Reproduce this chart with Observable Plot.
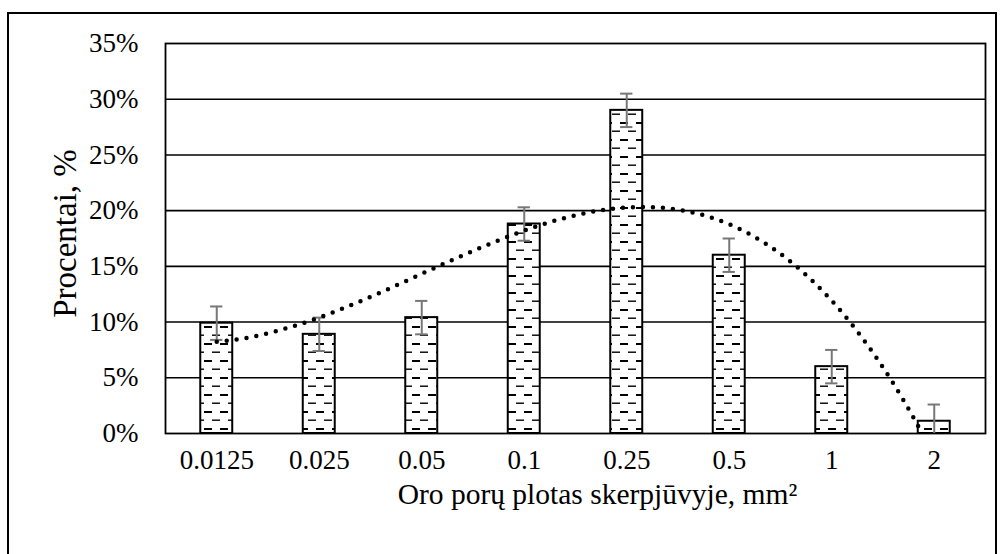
<!DOCTYPE html>
<html>
<head>
<meta charset="utf-8">
<script src="https://cdn.jsdelivr.net/npm/d3@7"></script>
<script src="https://cdn.jsdelivr.net/npm/@observablehq/plot@0.6"></script>
<style>
  html, body { margin: 0; padding: 0; background: #fff; }
  #wrap { position: relative; width: 1001px; height: 554px; overflow: hidden; }
  #border { position: absolute; left: 7px; top: 12px; width: 990px; height: 600px; border: 2px solid #000; box-sizing: border-box; }
  #chart { position: absolute; left: 0; top: 0; }
</style>
</head>
<body>
<div id="wrap">
  <div id="border"></div>
  <div id="chart"></div>
</div>
<script>
// Pore-area classes (mm²) and their share of all pores (%)
const categories = ["0.0125", "0.025", "0.05", "0.1", "0.25", "0.5", "1", "2"];
const shares = [9.9, 8.9, 10.4, 18.8, 29.0, 16.0, 6.0, 1.1];
const errors = [1.5, 1.5, 1.5, 1.5, 1.5, 1.5, 1.5, 1.5];
const yTicks = [0, 5, 10, 15, 20, 25, 30, 35];
const xTitle = "Oro porų plotas skerpjūvyje, mm²";
const yTitle = "Procentai, %";

const rows = categories.map((c, i) => ({
  pos: i + 1,
  category: c,
  value: shares[i],
  lo: Math.max(0, shares[i] - errors[i]),
  hi: shares[i] + errors[i]
}));

// Least-squares cubic trend over category positions 1..n
function polyFit(xs, ys, order) {
  const m = order + 1;
  const A = Array.from({length: m}, () => new Array(m + 1).fill(0));
  xs.forEach((x, k) => {
    for (let r = 0; r < m; r++) {
      for (let c = 0; c < m; c++) A[r][c] += Math.pow(x, r + c);
      A[r][m] += ys[k] * Math.pow(x, r);
    }
  });
  for (let p = 0; p < m; p++) {
    let best = p;
    for (let r = p + 1; r < m; r++) if (Math.abs(A[r][p]) > Math.abs(A[best][p])) best = r;
    [A[p], A[best]] = [A[best], A[p]];
    for (let r = 0; r < m; r++) {
      if (r === p) continue;
      const f = A[r][p] / A[p][p];
      for (let c = p; c <= m; c++) A[r][c] -= f * A[p][c];
    }
  }
  return A.map((row, r) => row[m] / row[r]);
}
const coef = polyFit(rows.map(d => d.pos), shares, 3);
const trendAt = t => coef.reduce((s, c, k) => s + c * Math.pow(t, k), 0);

// Sample the trend, cutting it where it drops below the axis minimum
const trend = [];
for (let t = 1; t <= categories.length + 1e-9; t += 0.01) {
  const v = trendAt(t);
  if (v < 0) {
    const prev = trend[trend.length - 1];
    const f = prev.v / (prev.v - v);
    trend.push({t: prev.t + f * (t - prev.t), v: 0});
    break;
  }
  trend.push({t, v});
}

const halfBar = 0.156;   // bar half-width in category units
const halfCap = 0.06;    // error-bar cap half-width

const plot = Plot.plot({
  width: 1001,
  height: 554,
  marginLeft: 165,
  marginRight: 16,
  marginTop: 43,
  marginBottom: 121,
  style: {fontFamily: "'Liberation Serif', 'Times New Roman', serif", fontSize: "27px", color: "#000", background: "transparent"},
  x: {domain: [0.5, categories.length + 0.5], ticks: rows.map(d => d.pos), tickFormat: i => categories[i - 1], tickSize: 0, tickPadding: 16, label: null},
  y: {domain: [0, 35], ticks: yTicks, tickFormat: d => d + "%", tickSize: 0, tickPadding: 27, label: null},
  marks: [
    Plot.ruleY(yTicks.slice(1, -1), {stroke: "#000", strokeWidth: 1.6}),
    Plot.frame({stroke: "#000", strokeWidth: 1.8}),
    Plot.rect(rows, {
      x1: d => d.pos - halfBar, x2: d => d.pos + halfBar,
      y1: 0, y2: "value",
      fill: "url(#dash-fill)", stroke: "#000", strokeWidth: 2
    }),
    Plot.ruleX(rows, {x: "pos", y1: "lo", y2: "hi", stroke: "#777", strokeWidth: 2}),
    Plot.ruleY(rows, {y: "hi", x1: d => d.pos - halfCap, x2: d => d.pos + halfCap, stroke: "#777", strokeWidth: 2}),
    Plot.ruleY(rows.filter(d => d.lo > 0), {y: "lo", x1: d => d.pos - halfCap, x2: d => d.pos + halfCap, stroke: "#777", strokeWidth: 2}),
    Plot.line(trend, {x: "t", y: "v", stroke: "#000", strokeWidth: 4.5, strokeDasharray: "0 10", strokeLinecap: "round", curve: "linear"}),
    Plot.text([xTitle], {frameAnchor: "bottom", textAnchor: "middle", dx: 22, dy: 70, fontSize: 29.5}),
    Plot.text([yTitle], {frameAnchor: "left", textAnchor: "middle", dx: -100, dy: -5, rotate: -90, fontSize: 33})
  ]
});

// Hatched fill: rows of short horizontal dashes on white
const svg = d3.select(plot);
const pat = svg.insert("defs", ":first-child")
  .append("pattern")
  .attr("id", "dash-fill")
  .attr("patternUnits", "userSpaceOnUse")
  .attr("width", 16).attr("height", 17);
pat.append("rect").attr("width", 16).attr("height", 17).attr("fill", "#fff");
pat.append("rect").attr("x", 0).attr("y", 3).attr("width", 4).attr("height", 2).attr("fill", "#000");
pat.append("rect").attr("x", 12).attr("y", 3).attr("width", 4).attr("height", 2).attr("fill", "#000");
pat.append("rect").attr("x", 4).attr("y", 11.5).attr("width", 8).attr("height", 1.4).attr("fill", "#000");

document.getElementById("chart").appendChild(plot);
</script>
</body>
</html>
